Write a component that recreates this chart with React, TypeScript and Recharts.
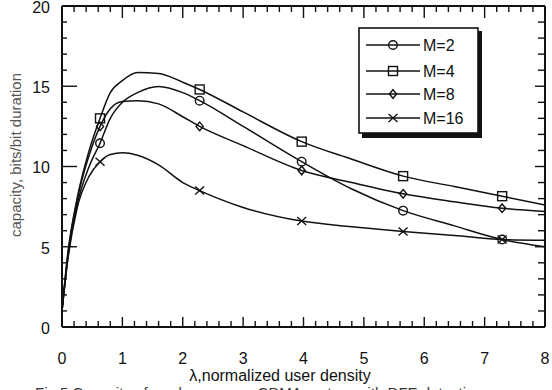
import React from 'react';
import { ComposedChart, Line, Scatter, XAxis, YAxis, Legend, Label } from 'recharts';

const lambdaGrid = [0, 0.1, 0.25, 0.45, 0.63, 0.8, 1.0, 1.25, 1.6, 2.0, 2.28, 3.0, 3.97, 4.8, 5.65, 6.5, 7.29, 8];
const capM2 = [1, 4.4, 7.6, 10.0, 11.45, 13.0, 14.0, 14.6, 14.98, 14.6, 14.1, 12.5, 10.3, 8.6, 7.25, 6.3, 5.45, 5.0];
const capM4 = [1, 4.7, 8.0, 11.0, 13.0, 14.6, 15.35, 15.85, 15.8, 15.25, 14.8, 13.4, 11.55, 10.45, 9.4, 8.75, 8.15, 7.6];
const capM8 = [1, 4.6, 7.9, 10.7, 12.5, 13.6, 14.05, 14.1, 13.9, 13.1, 12.5, 11.3, 9.75, 9.0, 8.3, 7.8, 7.4, 7.2];
const capM16 = [1, 4.3, 7.4, 9.4, 10.3, 10.75, 10.85, 10.7, 10.1, 9.0, 8.5, 7.45, 6.6, 6.25, 5.95, 5.7, 5.45, 5.4];
const markerLambda = [0.63, 2.28, 3.97, 5.65, 7.29];
const seriesNames = ['M=2', 'M=4', 'M=8', 'M=16'];
const seriesKeys = ['m2', 'm4', 'm8', 'm16'];
const seriesShapes = ['circle', 'square', 'diamond', 'cross'];
const xTickValues = Array.from({ length: 41 }, (_, i) => i / 5);
const yTickValues = Array.from({ length: 21 }, (_, i) => i);
const xAxisTitle = 'λ,normalized user density';
const yAxisTitle = 'capacity, bits/bit duration';
const captionText = 'Fig.5 Capacity of random access CDMA system with DFE detection';

const X_MIN = 0;
const X_MAX = 8;
const Y_MIN = 0;
const Y_MAX = 20;

const allCaps = [capM2, capM4, capM8, capM16];
const chartData = lambdaGrid.map((x, i) => ({ x, m2: capM2[i], m4: capM4[i], m8: capM8[i], m16: capM16[i] }));
const markerData = allCaps.map((caps) => markerLambda.map((x) => ({ x, y: caps[lambdaGrid.indexOf(x)] })));

// layout
const W = 552;
const H = 390;
const MARGIN = { top: 0, right: 0, bottom: 13, left: 12 };
const LEFT_AXIS_W = 50;
const RIGHT_AXIS_W = 7;
const TOP_AXIS_H = 6;
const BOTTOM_AXIS_H = 50;
const PLOT_L = MARGIN.left + LEFT_AXIS_W;
const PLOT_R = W - MARGIN.right - RIGHT_AXIS_W;
const PLOT_T = MARGIN.top + TOP_AXIS_H;
const PLOT_B = H - MARGIN.bottom - BOTTOM_AXIS_H;
const sx = (v: number) => PLOT_L + ((v - X_MIN) / (X_MAX - X_MIN)) * (PLOT_R - PLOT_L);
const sy = (v: number) => PLOT_B - ((v - Y_MIN) / (Y_MAX - Y_MIN)) * (PLOT_B - PLOT_T);

const FONT = '"Liberation Sans", Arial, Helvetica, sans-serif';
const INK = '#111111';

function Marker({ kind, cx, cy }: { kind: string; cx: number; cy: number }) {
  const sw = 1.4;
  if (kind === 'circle') return <circle cx={cx} cy={cy} r={4.3} fill="none" stroke={INK} strokeWidth={sw} />;
  if (kind === 'square') return <rect x={cx - 4.5} y={cy - 4.5} width={9} height={9} fill="none" stroke={INK} strokeWidth={sw} />;
  if (kind === 'diamond')
    return <polygon points={`${cx},${cy - 4.3} ${cx + 3.6},${cy} ${cx},${cy + 4.3} ${cx - 3.6},${cy}`} fill="none" stroke={INK} strokeWidth={sw} />;
  return (
    <g stroke={INK} strokeWidth={sw}>
      <line x1={cx - 4.5} y1={cy - 4} x2={cx + 4.5} y2={cy + 4} />
      <line x1={cx - 4.5} y1={cy + 4} x2={cx + 4.5} y2={cy - 4} />
    </g>
  );
}

const isInt = (v: number) => Math.abs(v - Math.round(v)) < 1e-6;
const isFive = (v: number) => isInt(v) && Math.round(v) % 5 === 0;

const BottomTick = (p: any) => {
  const v = Number(p.payload.value);
  if (!isInt(v)) return <g />;
  return (
    <text x={p.x} y={p.y + 37} textAnchor="middle" fontSize={16} fontFamily={FONT} fill={INK}>
      {Math.round(v)}
    </text>
  );
};
const LeftTick = (p: any) => {
  const v = Number(p.payload.value);
  if (!isFive(v)) return <g />;
  return (
    <text x={p.x - 12} y={p.y + 6.8} textAnchor="end" fontSize={16} fontFamily={FONT} fill={INK}>
      {Math.round(v)}
    </text>
  );
};
const NoTick = () => <g />;

const LegendBox = () => (
  <svg width={126} height={113} style={{ display: 'block' }}>
    <rect x={4} y={4} width={120} height={107} fill={INK} />
    <rect x={1} y={1} width={119} height={105} fill="#fff" stroke={INK} strokeWidth={1.6} />
    {seriesNames.map((name, i) => {
      const y = [18, 44, 67, 91][i];
      return (
        <g key={name}>
          <line x1={8} x2={62} y1={y} y2={y} stroke={INK} strokeWidth={1.4} />
          <Marker kind={seriesShapes[i]} cx={35} cy={y} />
          <text x={65} y={y + 6} fontSize={16} fontFamily={FONT} fill={INK}>
            {name}
          </text>
        </g>
      );
    })}
  </svg>
);

const Titles = () => (
  <g>
    <text x={280} y={381} textAnchor="middle" fontSize={16} fontFamily={FONT} fill={INK}>
      {xAxisTitle}
    </text>
    <text x={21} y={155} transform="rotate(-90, 21, 155)" textAnchor="middle" fontSize={15} fontFamily={FONT} fill="#555">
      {yAxisTitle}
    </text>
    <text x={35} y={398} fontSize={15} fontFamily={FONT} fill="#333">
      {captionText}
    </text>
  </g>
);

// inward tick marks of the frame (drawn on top of the chart)
const TickFrame = () => (
  <svg width={W} height={H} style={{ position: 'absolute', left: 0, top: 0, pointerEvents: 'none' }}>
    <g stroke={INK} strokeWidth={1.4} fill="none">
      {xTickValues.map((v) => (
        <path key={'b' + v} d={`M${sx(v)},${PLOT_B}v${-(isInt(v) ? 10 : 6)}`} />
      ))}
      {xTickValues.map((v) => (
        <path key={'t' + v} d={`M${sx(v)},${PLOT_T}v${isInt(v) ? 12 : 6}`} />
      ))}
      {yTickValues.map((v) => (
        <path key={'l' + v} d={`M${PLOT_L},${sy(v)}h${isFive(v) ? 15 : 5}`} />
      ))}
      {yTickValues.map((v) => (
        <path key={'r' + v} d={`M${PLOT_R},${sy(v)}h${-(isFive(v) ? 10 : 7)}`} />
      ))}
    </g>
  </svg>
);

export default function App() {
  return (
    <div style={{ position: 'absolute', left: 0, top: 0, width: W, height: H }}>
      <ComposedChart width={W} height={H} data={chartData} margin={MARGIN}>
        <XAxis
          dataKey="x"
          type="number"
          domain={[X_MIN, X_MAX]}
          ticks={xTickValues}
          interval={0}
          tickSize={0}
          tickMargin={0}
          tickLine={false}
          tick={BottomTick}
          height={BOTTOM_AXIS_H}
          axisLine={{ stroke: INK, strokeWidth: 2 }}
        >
          <Label content={() => <Titles />} />
        </XAxis>
        <XAxis
          xAxisId="top"
          orientation="top"
          dataKey="x"
          type="number"
          domain={[X_MIN, X_MAX]}
          tickLine={false}
          tick={NoTick}
          height={TOP_AXIS_H}
          axisLine={{ stroke: INK, strokeWidth: 2 }}
        />
        <YAxis
          type="number"
          domain={[Y_MIN, Y_MAX]}
          ticks={yTickValues}
          interval={0}
          tickSize={0}
          tickMargin={0}
          tickLine={false}
          tick={LeftTick}
          width={LEFT_AXIS_W}
          axisLine={{ stroke: INK, strokeWidth: 2 }}
        />
        <YAxis
          yAxisId="right"
          orientation="right"
          type="number"
          domain={[Y_MIN, Y_MAX]}
          tickLine={false}
          tick={NoTick}
          width={RIGHT_AXIS_W}
          axisLine={{ stroke: INK, strokeWidth: 2 }}
        />
        {seriesKeys.map((k, i) => (
          <Line
            key={k}
            dataKey={k}
            name={seriesNames[i]}
            type="monotone"
            stroke={INK}
            strokeWidth={1.5}
            dot={false}
            activeDot={false}
            isAnimationActive={false}
          />
        ))}
        {markerData.map((d, i) => (
          <Scatter
            key={seriesKeys[i] + 'm'}
            data={d}
            dataKey="y"
            isAnimationActive={false}
            legendType="none"
            shape={(p: any) => <Marker kind={seriesShapes[i]} cx={p.cx} cy={p.cy} />}
          />
        ))}
        <Legend
          layout="horizontal"
          verticalAlign="middle"
          align="center"
          content={() => <LegendBox />}
          wrapperStyle={{ position: 'absolute', left: 358, top: 27, width: 126, height: 113 }}
        />
      </ComposedChart>
      <TickFrame />
    </div>
  );
}
